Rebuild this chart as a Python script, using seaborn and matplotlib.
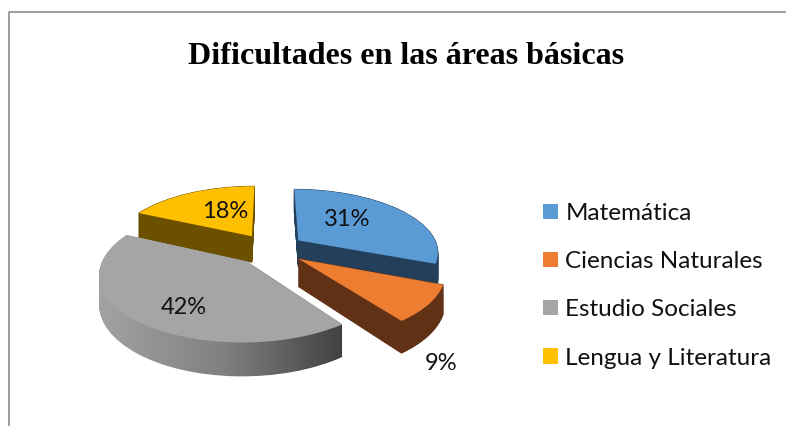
import numpy as np
import matplotlib
matplotlib.use("Agg")
import matplotlib.pyplot as plt
from matplotlib.path import Path
from matplotlib.transforms import Transform
import seaborn as sns

title = "Dificultades en las áreas básicas"
categories = ["Matemática", "Ciencias Naturales", "Estudio Sociales", "Lengua y Literatura"]
values = [31, 9, 42, 18]
top_colors = ["#5b9bd5", "#ed7d31", "#a5a5a5", "#ffc000"]
wall_colors = ["#233f59", "#613115", "#808080", "#6b5000"]
explode = [0.25, 0.25, 0.25, 0.25]
draw_order = [2, 3, 4, 1]
label_pos = [(347, 220), (441, 363), (184, 307), (225, 212)]

sns.set_theme(style="white")
plt.rcParams["font.family"] = ["Lato", "DejaVu Sans"]
palette = sns.color_palette(top_colors)

X0, Y0, A, B, K, DEPTH = 270.0, 249.0, 140.0, 62.5, 0.17, 27.0


class Tilt(Transform):
    input_dims = 2
    output_dims = 2
    is_separable = False
    has_inverse = False

    def __init__(self, z=0.0):
        super().__init__()
        self.z = z

    def transform_non_affine(self, values):
        v = np.asarray(values, dtype=float)
        w = 1 + K * v[:, 1]
        return np.column_stack([X0 + A * v[:, 0] / w,
                                Y0 + (self.z * DEPTH - B * v[:, 1]) / w])


fig = plt.figure(figsize=(7.86, 4.26), dpi=100, facecolor="white")
ax = fig.add_axes([0, 0, 1, 1])

N = 40
gray_paths = []
for i in range(N + 1):
    z = 1 - i / N
    wedges, _ = ax.pie(values, explode=explode, startangle=90, counterclock=False,
                       colors=wall_colors, wedgeprops=dict(linewidth=0.6))
    for j, wd in enumerate(wedges):
        tr = Tilt(z)
        wd.set_transform(tr + ax.transData)
        wd.set_edgecolor(wall_colors[j])
        wd.set_zorder(draw_order[j] * 10 + i / (N + 1))
        if j == 2:
            wd.set_visible(False)
            gray_paths.append(tr.transform_path(wd.get_path()))

top_wedges, _, pct_texts = ax.pie(values, explode=explode, startangle=90, counterclock=False,
                                  colors=palette, autopct="%.0f%%",
                                  wedgeprops=dict(linewidth=0))
for j, wd in enumerate(top_wedges):
    wd.set_transform(Tilt(0.0) + ax.transData)
    wd.set_zorder(draw_order[j] * 10 + 5)
for t, p in zip(pct_texts, label_pos):
    t.set_position(p)
    t.set_fontsize(17)
    t.set_color("#111111")
    t.set_ha("center")
    t.set_va("center")
    t.set_zorder(100)

grad = np.linspace(0, 1, 256)[None, :]
im = ax.imshow(grad, extent=(98, 350, 390, 230), aspect="auto",
               cmap=sns.blend_palette(["#a3a3a3", "#808080", "#3e3e3e"], as_cmap=True),
               zorder=draw_order[2] * 10 + 1)
im.set_clip_path(Path.make_compound_path(*gray_paths), ax.transData)

ax.set_aspect("auto")
ax.set_xlim(0, 786)
ax.set_ylim(426, 0)
ax.set_axis_off()

ax.plot([9, 9, 786], [426, 12, 12], color="#8c8c8c", lw=1.2, zorder=1, clip_on=False)

ax.text(406.5, 57, title, family="Liberation Serif", fontweight="bold", fontsize=23.1,
        ha="center", va="center", color="black")

leg = ax.legend(top_wedges, categories, loc="upper left", bbox_to_anchor=(521.5, 181),
                bbox_transform=ax.transData, frameon=False, fontsize=17.5, handlelength=0.6,
                handleheight=0.6, handletextpad=0.3, labelspacing=1.12, borderpad=0.4)
for t in leg.get_texts():
    t.set_color("#111111")

fig.savefig("out.png", dpi=100, facecolor="white")
